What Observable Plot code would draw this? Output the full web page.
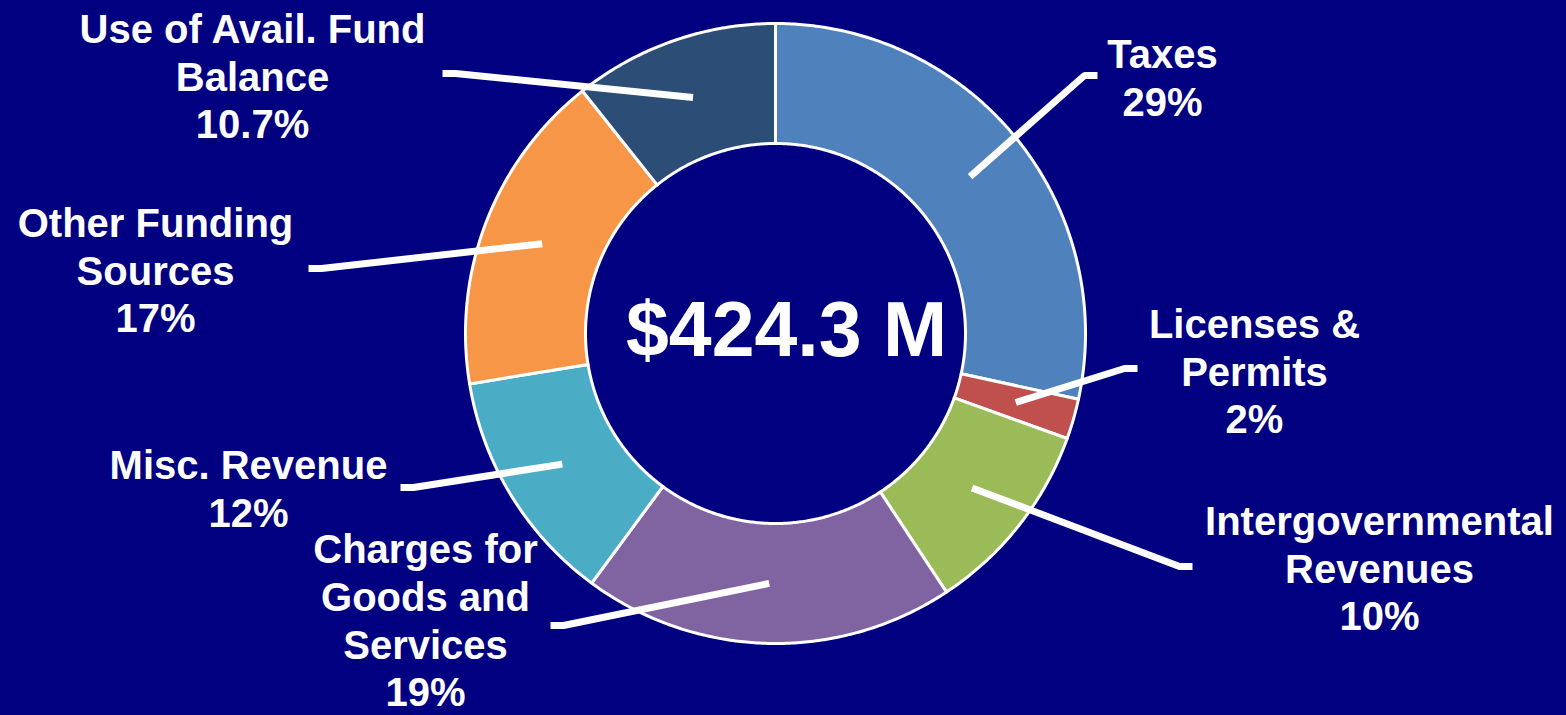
<!DOCTYPE html>
<html>
<head>
<meta charset="utf-8">
<script src="https://cdn.jsdelivr.net/npm/d3@7"></script>
<script src="https://cdn.jsdelivr.net/npm/@observablehq/plot@0.6"></script>
<style>
  html, body { margin: 0; padding: 0; background: #000080; overflow: hidden; }
  #chart svg { display: block; }
</style>
</head>
<body>
<div id="chart"></div>
<script>
// ---- data ----
const categories = [
  "Taxes",
  "Licenses & Permits",
  "Intergovernmental Revenues",
  "Charges for Goods and Services",
  "Misc. Revenue",
  "Other Funding Sources",
  "Use of Avail. Fund Balance"
];
const shares = [28.4, 2.1, 10.2, 19.4, 12.3, 16.9, 10.7];
const shareLabels = ["29%", "2%", "10%", "19%", "12%", "17%", "10.7%"];
const nameLines = [
  "Taxes",
  "Licenses &\nPermits",
  "Intergovernmental\nRevenues",
  "Charges for\nGoods and\nServices",
  "Misc. Revenue",
  "Other Funding\nSources",
  "Use of Avail. Fund\nBalance"
];
const sliceColors = ["#4F81BD", "#C0504D", "#9BBB59", "#8064A2", "#4BACC6", "#F79646", "#2C4D75"];
const totalLabel = "$424.3 M";

// ---- layout (pixels, relative to the donut centre) ----
const W = 1566, H = 715, CX = 775, CY = 333;
const R_OUT = 310, R_IN = 190;
const labelPos = [[387, -257], [479, 37], [604, 234], [-350, 286], [-527, 154], [-620, -64], [-523, -258]];
const leaderEnd = [[322, -258], [362, 35], [417, 233], [-225, 292], [-375, 154], [-467, -65], [-333, -260]];
const BEND = 13;

// ---- geometry derived from the data ----
const sum = d3.sum(shares);
let acc = 0;
const slices = shares.map((v, i) => {
  const a0 = acc / sum * 2 * Math.PI; acc += v;
  const a1 = acc / sum * 2 * Math.PI;
  return {cat: categories[i], a0, a1, mid: (a0 + a1) / 2};
});
const ring = slices.flatMap(s => {
  const n = Math.max(2, Math.ceil((s.a1 - s.a0) / (Math.PI / 360)));
  const angles = d3.range(n + 1).map(k => s.a0 + (s.a1 - s.a0) * k / n);
  const outer = angles.map(a => ({cat: s.cat, x: R_OUT * Math.sin(a), y: -R_OUT * Math.cos(a)}));
  const inner = angles.slice().reverse().map(a => ({cat: s.cat, x: R_IN * Math.sin(a), y: -R_IN * Math.cos(a)}));
  return outer.concat(inner);
});
const RM = (R_OUT + R_IN) / 2;
const leaders = slices.flatMap((s, i) => {
  const [ex, ey] = leaderEnd[i];
  const side = ex > 0 ? 1 : -1;
  return [
    {cat: s.cat, x: RM * Math.sin(s.mid), y: -RM * Math.cos(s.mid)},
    {cat: s.cat, x: ex - side * BEND, y: ey},
    {cat: s.cat, x: ex, y: ey}
  ];
});
const labels = categories.map((c, i) => ({
  cat: c, text: nameLines[i] + "\n" + shareLabels[i], x: labelPos[i][0], y: labelPos[i][1]
}));

const font = "'Liberation Sans', Arial, Helvetica, sans-serif";

const chart = Plot.plot({
  width: W,
  height: H,
  margin: 0,
  x: {domain: [-CX, W - CX], axis: null},
  y: {domain: [-CY, H - CY], reverse: true, axis: null},
  color: {domain: categories, range: sliceColors},
  style: {background: "#000080", fontFamily: font},
  marks: [
    Plot.line(ring, {
      x: "x", y: "y", z: "cat", fill: "cat",
      stroke: "white", strokeWidth: 3, strokeLinejoin: "round",
      curve: "linear-closed"
    }),
    Plot.line(leaders, {
      x: "x", y: "y", z: "cat",
      stroke: "white", strokeWidth: 7, strokeLinecap: "butt", strokeLinejoin: "miter"
    }),
    Plot.text(labels, {
      x: "x", y: "y", text: "text",
      fill: "white", fontSize: 40, fontWeight: "bold", fontFamily: font,
      lineHeight: 1.19, lineAnchor: "middle", textAnchor: "middle"
    }),
    Plot.text([totalLabel], {
      x: () => 11, y: () => -2, text: d => d,
      fill: "white", fontSize: 77, fontWeight: "bold", fontFamily: font,
      lineAnchor: "middle", textAnchor: "middle"
    })
  ]
});
document.getElementById("chart").appendChild(chart);
</script>
</body>
</html>
